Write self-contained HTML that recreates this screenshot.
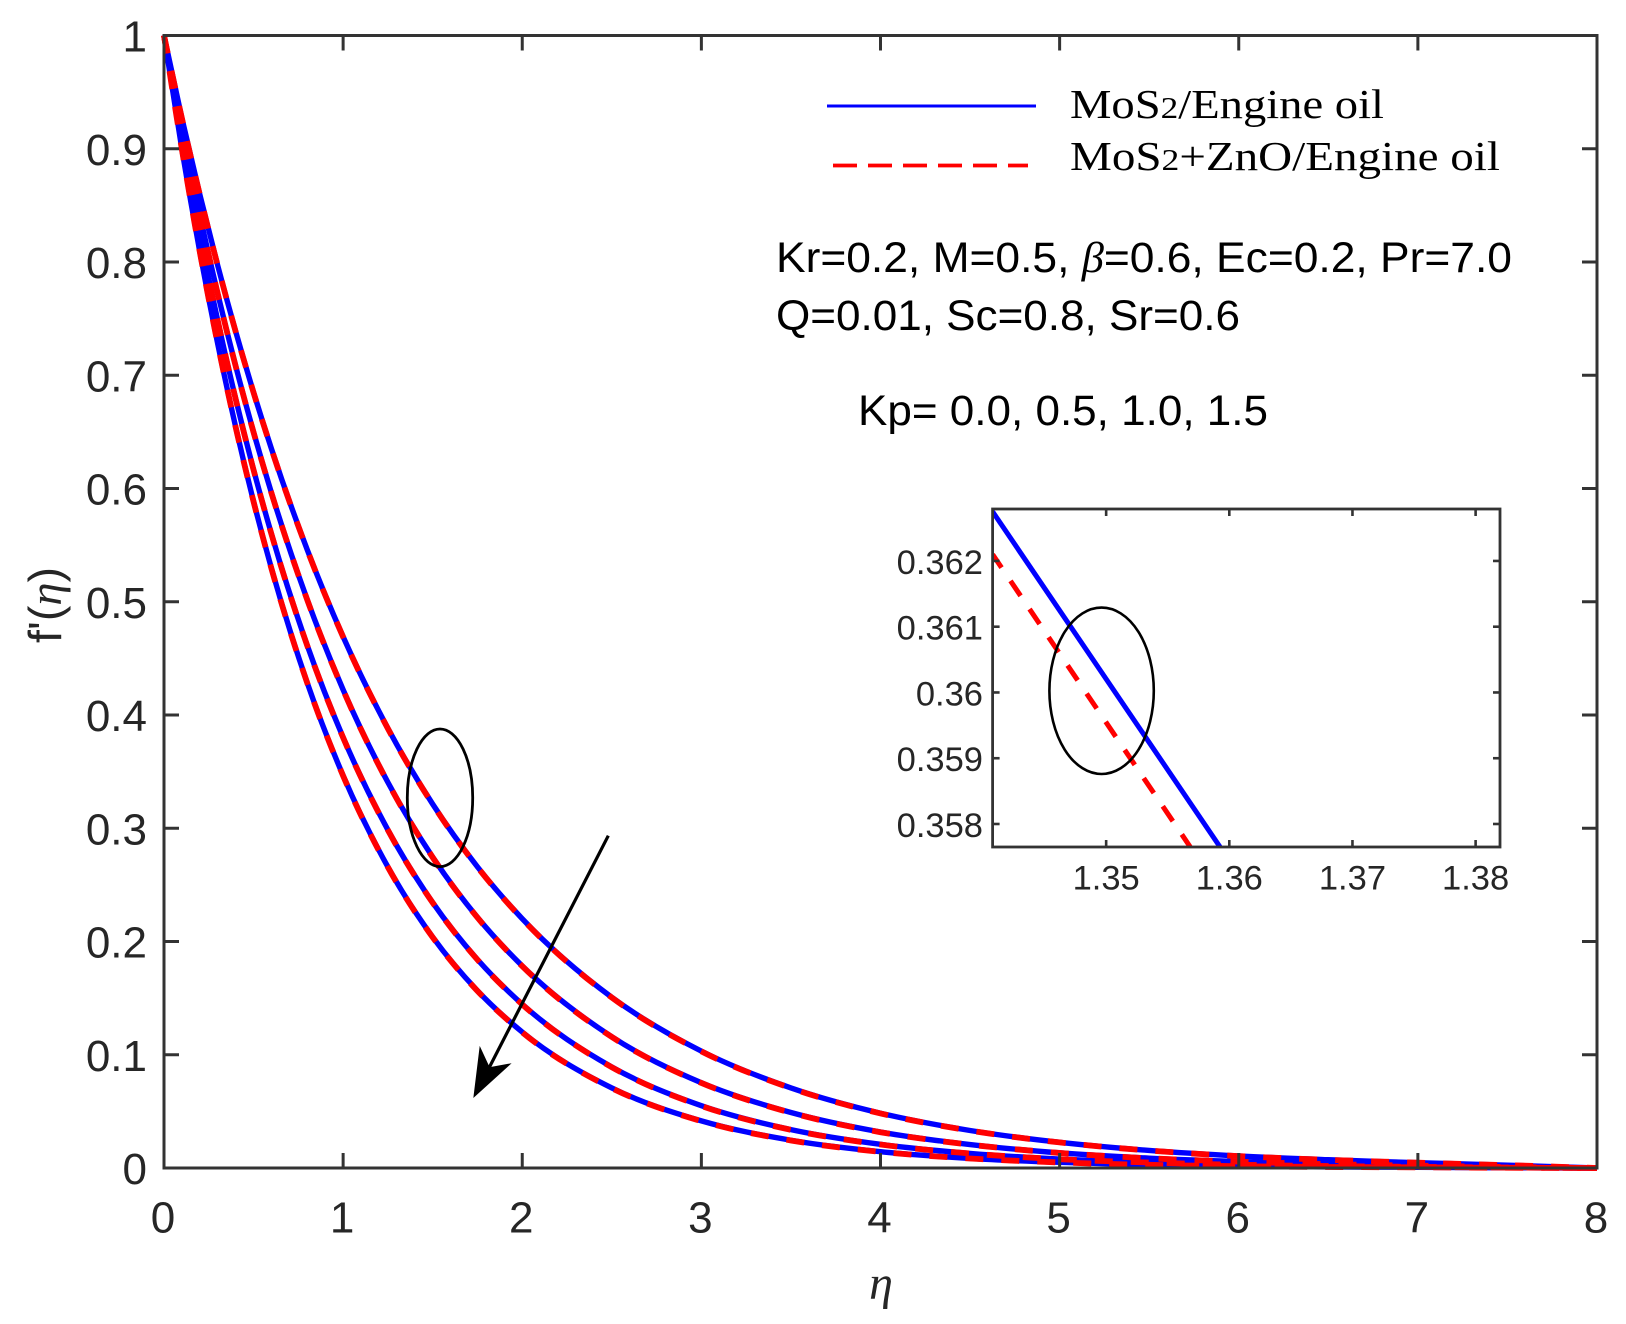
<!DOCTYPE html>
<html lang="en">
<head>
<meta charset="utf-8">
<title>Velocity profile f'(η) for varying Kp</title>
<style>
  html, body { margin: 0; padding: 0; background: #fff; }
  svg { display: block; }
  .tick-label { font-family: "Liberation Sans", sans-serif; font-size: 44px; fill: #262626; }
  .inset-label { font-family: "Liberation Sans", sans-serif; font-size: 34.5px; fill: #262626; }
  .note { font-family: "Liberation Sans", sans-serif; font-size: 43px; fill: #000; }
  .legend-text { font-family: "Liberation Serif", serif; font-size: 41px; fill: #000; }
</style>
</head>
<body>
<svg id="chart" xmlns="http://www.w3.org/2000/svg" width="1626" height="1324" viewBox="0 0 1626 1324">
  <rect x="0" y="0" width="1626" height="1324" fill="#ffffff"/>
  <defs>
    <clipPath id="inset-clip"><rect x="992.6" y="509" width="507.4" height="338"/></clipPath>
  </defs>
  <g id="main-curves"></g>
  <g id="main-axes"></g>

  <text x="881" y="1299" text-anchor="middle" font-family="'Liberation Serif', serif" font-style="italic" font-size="48" fill="#262626">η</text>
  <text transform="translate(61,643) rotate(-90)" font-family="'Liberation Sans', sans-serif" font-size="46" fill="#262626" textLength="76" lengthAdjust="spacingAndGlyphs">f'(<tspan font-family="'Liberation Serif', serif" font-style="italic">η</tspan>)</text>

  <g>
    <line x1="827" y1="106" x2="1036" y2="106" stroke="#0000ff" stroke-width="3"/>
    <text class="legend-text" x="1070" y="118" textLength="314" lengthAdjust="spacingAndGlyphs">MoS<tspan font-size="31">2</tspan>/Engine oil</text>
    <line x1="833" y1="165.5" x2="1028" y2="165.5" stroke="#ff0000" stroke-width="3.8" stroke-dasharray="24 11"/>
    <text class="legend-text" x="1070" y="170" textLength="430" lengthAdjust="spacingAndGlyphs">MoS<tspan font-size="31">2</tspan>+ZnO/Engine oil</text>
  </g>

  <text class="note" x="776" y="272" textLength="736" lengthAdjust="spacingAndGlyphs">Kr=0.2, M=0.5, <tspan font-family="'Liberation Serif', serif" font-style="italic">β</tspan>=0.6, Ec=0.2, Pr=7.0</text>
  <text class="note" x="776" y="330" textLength="464" lengthAdjust="spacingAndGlyphs">Q=0.01, Sc=0.8, Sr=0.6</text>
  <text class="note" x="858" y="425" textLength="410" lengthAdjust="spacingAndGlyphs">Kp= 0.0, 0.5, 1.0, 1.5</text>

  <ellipse cx="440" cy="797.8" rx="32.7" ry="68.8" fill="none" stroke="#000" stroke-width="2.8"/>
  <g>
    <line x1="608.3" y1="835.7" x2="489" y2="1068" stroke="#000" stroke-width="3.2"/>
    <polygon points="474,1096.7 480,1047.7 489.3,1067.7 510,1064" fill="#000" stroke="#000" stroke-width="1"/>
  </g>

  <g id="inset">
    <rect x="992.6" y="509" width="507.4" height="338" fill="#ffffff"/>
    <g id="inset-curves" clip-path="url(#inset-clip)"></g>
    <g id="inset-axes"></g>
    <ellipse cx="1101.6" cy="690.8" rx="52.2" ry="83.2" fill="none" stroke="#000" stroke-width="2.6"/>
  </g>
</svg>

<script>
const etaValues = [0, 0.1, 0.2, 0.3, 0.4, 0.5, 0.6, 0.8, 1, 1.25, 1.5, 1.75, 2, 2.5, 3, 3.5, 4, 4.5, 5, 5.5, 6, 6.5, 7, 7.5, 8];

const blueKp00 = [1, 0.9270, 0.8596, 0.7968, 0.7387, 0.6849, 0.6350, 0.5458, 0.4691, 0.3882, 0.3213, 0.2659, 0.2201, 0.1507, 0.1032, 0.0707, 0.0484, 0.0331, 0.0227, 0.0155, 0.0106, 0.0073, 0.0047, 0.0025, 0];
const blueKp05 = [1, 0.9174, 0.8416, 0.7721, 0.7083, 0.6498, 0.5961, 0.5017, 0.4223, 0.3405, 0.2745, 0.2213, 0.1784, 0.1159, 0.0753, 0.0490, 0.0318, 0.0207, 0.0134, 0.0087, 0.0057, 0.0035, 0.0021, 0.0009, 0];
const blueKp10 = [1, 0.9079, 0.8242, 0.7483, 0.6793, 0.6166, 0.5598, 0.4613, 0.3802, 0.2985, 0.2344, 0.1841, 0.1446, 0.0892, 0.0550, 0.0339, 0.0209, 0.0129, 0.0079, 0.0049, 0.0030, 0.0018, 0.0010, 0.0004, 0];
const blueKp15 = [1, 0.8994, 0.8089, 0.7276, 0.6544, 0.5886, 0.5294, 0.4283, 0.3465, 0.2658, 0.2039, 0.1565, 0.1200, 0.0707, 0.0416, 0.0245, 0.0144, 0.0085, 0.0050, 0.0029, 0.0017, 0.0010, 0.0006, 0.0002, 0];

const redKp00 = [1, 0.9269, 0.8595, 0.7967, 0.7385, 0.6847, 0.6348, 0.5456, 0.4689, 0.3880, 0.3211, 0.2657, 0.2199, 0.1505, 0.1030, 0.0705, 0.0482, 0.0330, 0.0226, 0.0154, 0.0105, 0.0072, 0.0047, 0.0025, 0];
const redKp05 = [1, 0.9173, 0.8415, 0.7720, 0.7081, 0.6496, 0.5959, 0.5015, 0.4221, 0.3403, 0.2743, 0.2211, 0.1782, 0.1157, 0.0751, 0.0488, 0.0316, 0.0206, 0.0133, 0.0086, 0.0056, 0.0034, 0.0021, 0.0009, 0];
const redKp10 = [1, 0.9078, 0.8241, 0.7482, 0.6791, 0.6164, 0.5596, 0.4611, 0.3800, 0.2983, 0.2342, 0.1839, 0.1444, 0.0890, 0.0548, 0.0337, 0.0207, 0.0128, 0.0078, 0.0048, 0.0029, 0.0017, 0.0010, 0.0004, 0];
const redKp15 = [1, 0.8993, 0.8088, 0.7275, 0.6542, 0.5884, 0.5292, 0.4281, 0.3463, 0.2656, 0.2037, 0.1563, 0.1198, 0.0705, 0.0414, 0.0243, 0.0142, 0.0084, 0.0049, 0.0028, 0.0016, 0.0009, 0.0006, 0.0002, 0];

const xTickValues = [0, 1, 2, 3, 4, 5, 6, 7, 8];
const xTickLabels = ['0', '1', '2', '3', '4', '5', '6', '7', '8'];
const yTickValues = [0, 0.1, 0.2, 0.3, 0.4, 0.5, 0.6, 0.7, 0.8, 0.9, 1];
const yTickLabels = ['0', '0.1', '0.2', '0.3', '0.4', '0.5', '0.6', '0.7', '0.8', '0.9', '1'];

const insetEtaBlue = [1.34078, 1.35925];
const insetBlue = [0.36275, 0.35765];
const insetEtaRed = [1.34078, 1.35683];
const insetRed = [0.36210, 0.35765];
const insetXTickValues = [1.35, 1.36, 1.37, 1.38];
const insetXTickLabels = ['1.35', '1.36', '1.37', '1.38'];
const insetYTickValues = [0.358, 0.359, 0.36, 0.361, 0.362];
const insetYTickLabels = ['0.358', '0.359', '0.36', '0.361', '0.362'];

const NS = 'http://www.w3.org/2000/svg';

function xScale(v) { return 164 + (v / 8) * (1597 - 164); }
function yScale(v) { return 1168 - v * (1168 - 35.5); }
function insetX(v) { return 992.6 + ((v - 1.34078) / (1.38198 - 1.34078)) * (1500 - 992.6); }
function insetY(v) { return 847 - ((v - 0.35765) / (0.36279 - 0.35765)) * (847 - 509); }

function make(tag, attrs, parent) {
  const el = document.createElementNS(NS, tag);
  for (const k in attrs) el.setAttribute(k, attrs[k]);
  parent.appendChild(el);
  return el;
}

function smoothPath(xs, ys) {
  const n = xs.length;
  const px = xs.map(xScale);
  const py = ys.map(yScale);
  const slope = [];
  for (let i = 0; i < n; i++) {
    if (i === 0) {
      slope.push((py[1] - py[0]) / (px[1] - px[0]));
    } else if (i === n - 1) {
      slope.push((py[n - 1] - py[n - 2]) / (px[n - 1] - px[n - 2]));
    } else {
      const h0 = px[i] - px[i - 1];
      const h1 = px[i + 1] - px[i];
      const s0 = (py[i] - py[i - 1]) / h0;
      const s1 = (py[i + 1] - py[i]) / h1;
      slope.push((s0 * h1 + s1 * h0) / (h0 + h1));
    }
  }
  slope[0] = slope[0] + (slope[0] - slope[1]) * 0.5;
  let d = 'M' + px[0].toFixed(2) + ' ' + py[0].toFixed(2);
  for (let i = 0; i < n - 1; i++) {
    const h = px[i + 1] - px[i];
    d += ' C' + (px[i] + h / 3).toFixed(2) + ' ' + (py[i] + slope[i] * h / 3).toFixed(2) +
         ' ' + (px[i + 1] - h / 3).toFixed(2) + ' ' + (py[i + 1] - slope[i + 1] * h / 3).toFixed(2) +
         ' ' + px[i + 1].toFixed(2) + ' ' + py[i + 1].toFixed(2);
  }
  return d;
}

const curvesGroup = document.getElementById('main-curves');
const axesGroup = document.getElementById('main-axes');

[blueKp00, blueKp05, blueKp10, blueKp15].forEach(function (series) {
  const p = make('path', { d: smoothPath(etaValues, series), fill: 'none', stroke: '#0000ff', 'stroke-width': 5.4 }, curvesGroup);
  
  
});
[redKp00, redKp05, redKp10, redKp15].forEach(function (series) {
  const p = make('path', { d: smoothPath(etaValues, series), fill: 'none', stroke: '#ff0000', 'stroke-width': 5.8, 'stroke-dasharray': '18 18' }, curvesGroup);
  
  
});

const frame = make('rect', { x: xScale(0), y: yScale(1), width: xScale(8) - xScale(0), height: yScale(0) - yScale(1), fill: 'none', stroke: '#333333', 'stroke-width': 3 }, axesGroup);



xTickValues.forEach(function (v, i) {
  const x = xScale(v);
  if (i > 0 && i < xTickValues.length - 1) {
    const bottom = make('line', { x1: x, x2: x, y1: yScale(0), y2: yScale(0) - 15, stroke: '#333333', 'stroke-width': 3 }, axesGroup);
    
    
    const top = make('line', { x1: x, x2: x, y1: yScale(1), y2: yScale(1) + 15, stroke: '#333333', 'stroke-width': 3 }, axesGroup);
    
    
  }
  const t = make('text', { x: x - 1, y: 1232.5, 'text-anchor': 'middle', class: 'tick-label' }, axesGroup);
  t.textContent = xTickLabels[i];
  
  
});

yTickValues.forEach(function (v, i) {
  const y = yScale(v);
  if (i > 0 && i < yTickValues.length - 1) {
    const left = make('line', { x1: xScale(0), x2: xScale(0) + 15, y1: y, y2: y, stroke: '#333333', 'stroke-width': 3 }, axesGroup);
    
    
    const right = make('line', { x1: xScale(8), x2: xScale(8) - 15, y1: y, y2: y, stroke: '#333333', 'stroke-width': 3 }, axesGroup);
    
    
  }
  const t = make('text', { x: 147, y: y + 16, 'text-anchor': 'end', class: 'tick-label' }, axesGroup);
  t.textContent = yTickLabels[i];
  
  
});

const insetCurves = document.getElementById('inset-curves');
const insetAxes = document.getElementById('inset-axes');

const insetBlueLine = make('line', { x1: insetX(insetEtaBlue[0]), y1: insetY(insetBlue[0]), x2: insetX(insetEtaBlue[1]), y2: insetY(insetBlue[1]), stroke: '#0000ff', 'stroke-width': 5 }, insetCurves);


const insetRedLine = make('line', { x1: insetX(insetEtaRed[0]), y1: insetY(insetRed[0]), x2: insetX(insetEtaRed[1]), y2: insetY(insetRed[1]), stroke: '#ff0000', 'stroke-width': 5, 'stroke-dasharray': '18 16', 'stroke-dashoffset': 2 }, insetCurves);



const insetFrame = make('rect', { x: 992.6, y: 509, width: 507.4, height: 338, fill: 'none', stroke: '#333333', 'stroke-width': 2.8 }, insetAxes);



insetXTickValues.forEach(function (v, i) {
  const x = insetX(v);
  const bottom = make('line', { x1: x, x2: x, y1: 847, y2: 840, stroke: '#333333', 'stroke-width': 2.6 }, insetAxes);
  
  
  const top = make('line', { x1: x, x2: x, y1: 509, y2: 516, stroke: '#333333', 'stroke-width': 2.6 }, insetAxes);
  
  
  const t = make('text', { x: x, y: 889.5, 'text-anchor': 'middle', class: 'inset-label' }, insetAxes);
  t.textContent = insetXTickLabels[i];
  
  
});

insetYTickValues.forEach(function (v, i) {
  const y = insetY(v);
  const left = make('line', { x1: 992.6, x2: 999.6, y1: y, y2: y, stroke: '#333333', 'stroke-width': 2.6 }, insetAxes);
  
  
  const right = make('line', { x1: 1500, x2: 1493, y1: y, y2: y, stroke: '#333333', 'stroke-width': 2.6 }, insetAxes);
  
  
  const t = make('text', { x: 983, y: y + 13, 'text-anchor': 'end', class: 'inset-label' }, insetAxes);
  t.textContent = insetYTickLabels[i];
  
  
});
</script>
</body>
</html>
